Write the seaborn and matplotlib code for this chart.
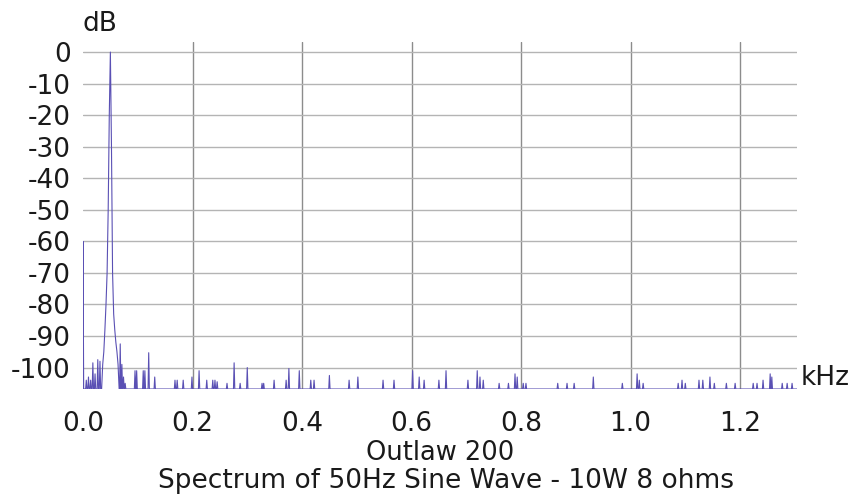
import numpy as np
import pandas as pd
import matplotlib
matplotlib.use("Agg")
import matplotlib.pyplot as plt
import seaborn as sns

# ---- data ----
floor_db = -106.8

# main 50 Hz peak envelope (kHz, dB)
peak_khz = [0.034, 0.036, 0.038, 0.040, 0.042, 0.044, 0.046, 0.048, 0.050,
            0.052, 0.054, 0.056, 0.058, 0.060, 0.062, 0.064, 0.066]
peak_db = [-106.8, -99.0, -95.0, -88.0, -80.0, -70.0, -50.0, -20.0, 0.0,
           -30.0, -70.0, -83.0, -88.0, -92.0, -95.0, -99.0, -106.8]

# discrete spurious spikes (kHz, dB)
spike_khz = [0.000, 0.006, 0.010, 0.014, 0.018, 0.022, 0.027, 0.031,
             0.068, 0.071, 0.074, 0.077, 0.095, 0.098, 0.110, 0.113, 0.120, 0.131,
             0.168, 0.172, 0.183, 0.199, 0.212, 0.226, 0.237, 0.241, 0.245, 0.263,
             0.276, 0.287, 0.300, 0.327, 0.330, 0.349, 0.371, 0.376, 0.395, 0.416,
             0.422, 0.450, 0.486, 0.502, 0.548, 0.568, 0.602, 0.614, 0.623, 0.650,
             0.663, 0.703, 0.720, 0.725, 0.731, 0.760, 0.777, 0.789, 0.793, 0.804,
             0.809, 0.867, 0.884, 0.897, 0.932, 0.985, 1.012, 1.016, 1.023, 1.087,
             1.094, 1.100, 1.125, 1.132, 1.145, 1.153, 1.175, 1.191, 1.224, 1.231,
             1.242, 1.255, 1.258, 1.277, 1.286, 1.295]
spike_db = [-60.0, -104.0, -103.0, -104.0, -98.5, -102.0, -97.5, -98.0,
            -92.5, -99.0, -103.0, -105.0, -101.0, -101.0, -101.0, -101.0, -95.3, -103.0,
            -104.0, -104.0, -104.0, -103.0, -101.0, -104.0, -104.0, -104.0, -104.5, -105.0,
            -98.5, -105.0, -100.0, -105.0, -105.0, -104.0, -104.0, -100.3, -101.0, -104.0,
            -104.0, -102.5, -104.0, -103.0, -104.0, -104.0, -101.0, -103.0, -104.0, -104.0,
            -101.0, -104.0, -101.0, -103.0, -104.0, -105.0, -105.0, -102.0, -103.0, -105.0,
            -105.0, -105.0, -105.0, -105.0, -103.0, -105.0, -102.0, -104.0, -105.0, -105.0,
            -104.0, -105.0, -104.0, -104.0, -103.0, -105.0, -105.0, -105.0, -105.0, -105.0,
            -104.0, -102.0, -103.0, -105.0, -105.0, -105.0]

x_ticks = [0.0, 0.2, 0.4, 0.6, 0.8, 1.0, 1.2]
x_tick_labels = ["0.0", "0.2", "0.4", "0.6", "0.8", "1.0", "1.2"]
y_ticks = [0, -10, -20, -30, -40, -50, -60, -70, -80, -90, -100]
y_tick_labels = ["0", "-10", "-20", "-30", "-40", "-50", "-60", "-70", "-80", "-90", "-100"]

# ---- build the trace from the arrays ----
half = 0.0012
xs, ys = [], []
points = [(f, d, "spike") for f, d in zip(spike_khz, spike_db)]
points.append((peak_khz[0], None, "peak"))
points.sort(key=lambda p: p[0])
for f, d, kind in points:
    if kind == "peak":
        xs.extend(peak_khz)
        ys.extend(peak_db)
    else:
        xs.extend([max(f - half, 0.0), f, f + half])
        ys.extend([floor_db, d, floor_db])
xs = [0.0] + xs + [1.304]
ys = [floor_db] + ys + [floor_db]
df = pd.DataFrame({"kHz": xs, "dB": ys})

# ---- plot ----
sns.set_style("white")
plt.rcParams["font.family"] = ["DejaVu Sans"]

fig = plt.figure(figsize=(8.56, 4.98), dpi=100)
ax = fig.add_axes([83 / 856, 1 - 389 / 498, (797 - 83) / 856, (389 - 42) / 498])

ax.set_xlim(0, 1.304)
ax.set_ylim(floor_db, 3.2)
for t in x_ticks[1:]:
    ax.axvline(t, color="#8c8c8c", lw=1.0, zorder=0)
for t in y_ticks:
    ax.axhline(t, color="#b4b4b4", lw=1.0, zorder=0)

sns.lineplot(data=df, x="kHz", y="dB", sort=False, estimator=None,
             color="#5a50b4", linewidth=0.8, ax=ax)

for s in ax.spines.values():
    s.set_visible(False)
ax.set_xticks(x_ticks)
ax.set_xticklabels(x_tick_labels)
ax.set_yticks(y_ticks)
ax.set_yticklabels(y_tick_labels)
ax.tick_params(axis="x", length=0, pad=16, labelsize=19, colors="#1a1a1a")
ax.tick_params(axis="y", length=0, pad=9, labelsize=19, colors="#1a1a1a")
ax.set_xlabel("")
ax.set_ylabel("")
ax.grid(False)

fig.text(83 / 856, 1 - 24 / 498, "dB", fontsize=19, ha="left", va="center", color="#1a1a1a")
fig.text(801 / 856, 1 - 378 / 498, "kHz", fontsize=19, ha="left", va="center", color="#1a1a1a")
fig.text(440 / 856, 1 - 453 / 498, "Outlaw 200", fontsize=18.5, ha="center", va="center", color="#1a1a1a")
fig.text(446 / 856, 1 - 481 / 498, "Spectrum of 50Hz Sine Wave - 10W 8 ohms", fontsize=19,
         ha="center", va="center", color="#1a1a1a")

fig.savefig("out.png", dpi=100)
